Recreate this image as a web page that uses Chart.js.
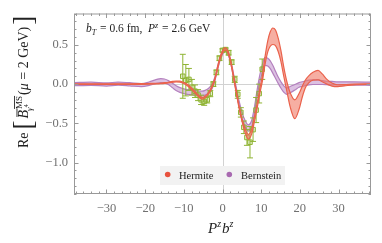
<!DOCTYPE html>
<html>
<head>
<meta charset="utf-8">
<script src="https://cdn.jsdelivr.net/npm/chart.js@4/dist/chart.umd.min.js"></script>
<style>
html, body { margin: 0; padding: 0; background: #fff; }
canvas { display: block; }
</style>
</head>
<body>
<canvas id="c" width="382" height="243"></canvas>
<script>
// curve grid (P^z b^z) and the two reconstructions
const xGrid = [-38.4, -34, -30, -27, -24, -21, -19, -17, -16, -15, -14, -13, -12, -11, -10, -9, -8, -7, -6, -5.3, -4.5, -3.5, -2.7, -2, -1.4, -0.7, 0, 0.7, 1.4, 2.1, 2.8, 3.5, 4.2, 5, 5.9, 6.7, 7.5, 8.2, 8.9, 9.6, 10.3, 11, 11.7, 12.3, 13, 13.7, 14.4, 15.1, 15.8, 16.6, 17.5, 18.7, 19.8, 20.6, 21.4, 22.3, 23.4, 24.7, 25.8, 27, 28.3, 29.8, 31.5, 34, 38.4];

const hermiteMid = [0, 0, 0, 0, 0, 0.002, 0.004, 0.007, 0.01, 0.014, 0.02, 0.028, 0.034, 0.032, 0.015, -0.015, -0.06, -0.11, -0.16, -0.18, -0.165, -0.11, -0.03, 0.06, 0.18, 0.32, 0.41, 0.45, 0.41, 0.29, 0.11, -0.08, -0.27, -0.45, -0.6, -0.67, -0.61, -0.46, -0.29, -0.1, 0.07, 0.3, 0.48, 0.57, 0.61, 0.59, 0.5, 0.36, 0.17, -0.02, -0.2, -0.32, -0.22, -0.1, 0.0, 0.06, 0.1, 0.115, 0.08, 0.03, -0.005, -0.02, -0.015, -0.004, 0];
const hermiteErr = [0.004, 0.004, 0.004, 0.004, 0.004, 0.004, 0.004, 0.004, 0.004, 0.004, 0.004, 0.006, 0.006, 0.006, 0.006, 0.01, 0.01, 0.01, 0.01, 0.01, 0.01, 0.01, 0.01, 0.01, 0.015, 0.015, 0.015, 0.015, 0.015, 0.015, 0.015, 0.015, 0.015, 0.015, 0.025, 0.03, 0.03, 0.03, 0.03, 0.03, 0.035, 0.05, 0.07, 0.09, 0.105, 0.1, 0.085, 0.07, 0.06, 0.06, 0.09, 0.12, 0.1, 0.07, 0.05, 0.045, 0.05, 0.06, 0.05, 0.03, 0.02, 0.012, 0.008, 0.005, 0.004];

const bernsteinMid = [0, 0.005, -0.005, 0.006, -0.002, -0.012, 0.005, 0.035, 0.046, 0.04, 0.02, -0.015, -0.05, -0.075, -0.09, -0.1, -0.105, -0.11, -0.12, -0.12, -0.11, -0.08, -0.03, 0.06, 0.18, 0.31, 0.4, 0.44, 0.4, 0.29, 0.12, -0.06, -0.23, -0.39, -0.51, -0.56, -0.51, -0.35, -0.13, 0.06, 0.2, 0.29, 0.28, 0.25, 0.19, 0.12, 0.05, -0.01, -0.06, -0.09, -0.07, -0.04, -0.01, 0.0, 0.01, 0.02, 0.025, 0.025, 0.02, 0.015, 0.012, 0.01, 0.01, 0.008, 0.005];
const bernsteinErr = [0.02, 0.02, 0.02, 0.02, 0.02, 0.02, 0.022, 0.025, 0.025, 0.025, 0.025, 0.028, 0.03, 0.03, 0.03, 0.03, 0.03, 0.03, 0.03, 0.03, 0.03, 0.03, 0.03, 0.025, 0.02, 0.02, 0.02, 0.02, 0.02, 0.02, 0.025, 0.03, 0.035, 0.04, 0.04, 0.04, 0.04, 0.04, 0.04, 0.045, 0.05, 0.05, 0.05, 0.05, 0.05, 0.045, 0.04, 0.04, 0.04, 0.04, 0.04, 0.035, 0.03, 0.03, 0.03, 0.03, 0.03, 0.03, 0.025, 0.022, 0.022, 0.02, 0.02, 0.02, 0.02];

// lattice points
const latX = [-10.27, -9.48, -8.69, -7.9, -7.11, -6.32, -5.53, -4.74, -3.95, -3.16, -2.37, -1.58, -0.79, 0, 0.79, 1.58, 2.37, 3.16, 3.95, 4.74, 5.53, 6.32, 7.11, 7.9, 8.69, 9.48, 10.27];
const latY = [0.1, 0.05, 0.06, -0.04, -0.09, -0.14, -0.2, -0.22, -0.2, -0.12, 0.0, 0.15, 0.33, 0.43, 0.44, 0.4, 0.28, 0.06, -0.13, -0.36, -0.55, -0.68, -0.74, -0.58, -0.33, -0.12, 0.19];
const latErr = [0.28, 0.2, 0.14, 0.1, 0.08, 0.07, 0.06, 0.05, 0.04, 0.04, 0.03, 0.03, 0.03, 0.02, 0.02, 0.03, 0.03, 0.04, 0.05, 0.06, 0.08, 0.1, 0.2, 0.15, 0.16, 0.12, 0.13];

const xTicks = [-30, -20, -10, 0, 10, 20, 30];
const yTicks = [-1.0, -0.5, 0.0, 0.5];

const RED = 'rgb(234,98,76)';
const RED_FILL = 'rgba(240,120,100,0.6)';
const PURPLE = 'rgb(180,128,190)';
const PURPLE_FILL = 'rgba(196,152,206,0.6)';
const GREEN = 'rgb(143,180,51)';
const SERIF = '"Liberation Serif", "DejaVu Serif", serif';

const pts = (mid, err, sign) => xGrid.map((x, i) => ({x: x, y: mid[i] + sign * err[i]}));
const minus = s => s.replace('-', '\u2212');

function band(label, mid, err, color, fill) {
  return [
    {label: label, data: pts(mid, err, 1), borderColor: color, borderWidth: 1.2, pointRadius: 0, fill: false, cubicInterpolationMode: 'monotone'},
    {label: label + '-lo', data: pts(mid, err, -1), borderColor: color, borderWidth: 1.2, pointRadius: 0, fill: '-1', backgroundColor: fill, cubicInterpolationMode: 'monotone'}
  ];
}

function rich(ctx, parts, x, y) {
  let cx = x;
  for (const p of parts) {
    ctx.font = (p.it ? 'italic ' : '') + p.s + 'px ' + SERIF;
    const w = ctx.measureText(p.t).width;
    const sx = p.at !== undefined ? p.at : cx;
    ctx.fillText(p.t, sx, y + (p.dy || 0));
    if (p.over) ctx.fillRect(sx + (p.ox || 0), y + (p.dy || 0) - p.s * 0.82, w, 0.9);
    cx = sx + w + (p.gap || 0);
  }
  return cx;
}

const decor = {
  id: 'decor',
  beforeDatasetsDraw(chart) {
    const {ctx, chartArea: a, scales: {x, y}} = chart;
    ctx.save();
    ctx.strokeStyle = '#d2d2d2';
    ctx.lineWidth = 1;
    const x0 = Math.round(x.getPixelForValue(0)) + 0.5;
    const y0 = Math.round(y.getPixelForValue(0)) + 0.5;
    ctx.beginPath();
    ctx.moveTo(x0, a.top); ctx.lineTo(x0, a.bottom);
    ctx.moveTo(a.left, y0); ctx.lineTo(a.right, y0);
    ctx.stroke();
    ctx.restore();
  },
  beforeDatasetDraw(chart, args) {
    if (args.index !== 2) return;
    const {ctx, chartArea: a, scales: {x, y}} = chart;
    ctx.save();
    ctx.beginPath();
    ctx.rect(a.left, a.top, a.right - a.left, a.bottom - a.top);
    ctx.clip();
    ctx.strokeStyle = GREEN;
    ctx.lineWidth = 1;
    ctx.beginPath();
    latX.forEach((v, i) => {
      const px = x.getPixelForValue(v);
      const hi = y.getPixelForValue(latY[i] + latErr[i]);
      const lo = y.getPixelForValue(latY[i] - latErr[i]);
      ctx.moveTo(px, hi); ctx.lineTo(px, lo);
      ctx.moveTo(px - 3, hi); ctx.lineTo(px + 3, hi);
      ctx.moveTo(px - 3, lo); ctx.lineTo(px + 3, lo);
    });
    ctx.stroke();
    ctx.restore();
  },
  afterDraw(chart) {
    const {ctx, chartArea: a, scales: {x, y}} = chart;
    ctx.save();
    // frame with inward ticks
    ctx.strokeStyle = '#999';
    ctx.lineWidth = 1;
    ctx.strokeRect(a.left + 0.5, a.top + 0.5, a.right - a.left - 1, a.bottom - a.top - 1);
    ctx.beginPath();
    for (let v = -38; v <= 38; v += 2) {
      const px = Math.round(x.getPixelForValue(v)) + 0.5;
      const len = v % 10 === 0 ? 4.5 : 2.5;
      ctx.moveTo(px, a.bottom); ctx.lineTo(px, a.bottom - len);
      ctx.moveTo(px, a.top); ctx.lineTo(px, a.top + len);
    }
    for (let k = -14; k <= 9; k++) {
      const py = Math.round(y.getPixelForValue(k / 10)) + 0.5;
      const len = k % 5 === 0 ? 4.5 : 2.5;
      ctx.moveTo(a.left, py); ctx.lineTo(a.left + len, py);
      ctx.moveTo(a.right, py); ctx.lineTo(a.right - len, py);
    }
    ctx.stroke();

    // annotation
    ctx.fillStyle = '#222';
    ctx.textBaseline = 'alphabetic';
    rich(ctx, [
      {t: 'b', s: 11.5, it: true},
      {t: 'T', s: 8, it: true, dy: 2.5, gap: 1},
      {t: ' = 0.6 fm,  ', s: 11.5},
      {t: 'P', s: 11.5, it: true},
      {t: 'z', s: 8, it: true, dy: -4.5, gap: 1},
      {t: ' = 2.6 GeV', s: 11.5}
    ], 86, 32);

    // legend
    ctx.fillStyle = '#f2f2f2';
    ctx.fillRect(160, 166, 125, 19);
    ctx.fillStyle = 'rgb(232,82,62)';
    ctx.beginPath(); ctx.arc(167.7, 174.5, 2.8, 0, Math.PI * 2); ctx.fill();
    ctx.fillStyle = 'rgb(168,105,176)';
    ctx.beginPath(); ctx.arc(229.3, 174.5, 2.8, 0, Math.PI * 2); ctx.fill();
    ctx.fillStyle = '#222';
    ctx.font = '10.5px ' + SERIF;
    ctx.fillText('Hermite', 179, 178.5);
    ctx.fillText('Bernstein', 241, 178.5);

    // x title
    rich(ctx, [
      {t: 'P', s: 15, it: true},
      {t: 'z', s: 10, it: true, dy: -6, gap: 1},
      {t: 'b', s: 15, it: true},
      {t: 'z', s: 10, it: true, dy: -6}
    ], 208, 233);

    // y title, rotated
    ctx.translate(28, 148);
    ctx.rotate(-Math.PI / 2);
    let cx = rich(ctx, [
      {t: 'Re', s: 14, gap: 3},
      {t: '[', s: 27, dy: 3.5, gap: 2},
      {t: 'B', s: 14, it: true, over: true, ox: 1.5, gap: 1}
    ], 0, 0);
    const e1 = rich(ctx, [{t: 'MS', s: 9, dy: -6.5, over: true}], cx, 0);
    const e2 = rich(ctx, [{t: '\u03b3', s: 9, it: true, dy: 3.5}, {t: '4', s: 6, dy: 0}], cx - 2, 0);
    cx = Math.max(e1, e2) + 1;
    rich(ctx, [
      {t: '(', s: 14},
      {t: '\u03bc', s: 14, it: true},
      {t: ' = 2 GeV)', s: 14, gap: 2},
      {t: ']', s: 27, dy: 3.5}
    ], cx, 0);
    ctx.restore();
  }
};

new Chart(document.getElementById('c'), {
  type: 'line',
  data: {
    datasets: [
      ...band('Hermite', hermiteMid, hermiteErr, RED, RED_FILL),
      {
        label: 'lattice',
        data: latX.map((x, i) => ({x: x, y: latY[i]})),
        showLine: false,
        pointStyle: 'rect',
        pointRadius: 3.2,
        pointBorderWidth: 1,
        pointBorderColor: GREEN,
        pointBackgroundColor: 'rgba(143,180,51,0.25)',
        borderColor: GREEN
      },
      ...band('Bernstein', bernsteinMid, bernsteinErr, PURPLE, PURPLE_FILL)
    ]
  },
  options: {
    responsive: false,
    animation: false,
    devicePixelRatio: 1,
    layout: {padding: {top: 10, right: 11, left: 0, bottom: 0}},
    plugins: {legend: {display: false}, tooltip: {enabled: false}},
    scales: {
      x: {
        type: 'linear',
        min: -38.4,
        max: 38.4,
        grid: {display: false, drawTicks: false},
        border: {display: false},
        afterBuildTicks: s => { s.ticks = xTicks.map(v => ({value: v})); },
        afterFit: s => { s.height = 49; },
        ticks: {
          padding: 7,
          maxRotation: 0,
          color: '#707070',
          font: {family: SERIF, size: 12.5},
          callback: v => minus(String(v))
        }
      },
      y: {
        type: 'linear',
        min: -1.4,
        max: 0.9,
        grid: {display: false, drawTicks: false},
        border: {display: false},
        afterBuildTicks: s => { s.ticks = yTicks.map(v => ({value: v})); },
        afterFit: s => { s.width = 74; },
        ticks: {
          padding: 6,
          color: '#707070',
          font: {family: SERIF, size: 12.5},
          callback: v => minus(Number(v).toFixed(1))
        }
      }
    }
  },
  plugins: [decor]
});
</script>
</body>
</html>
